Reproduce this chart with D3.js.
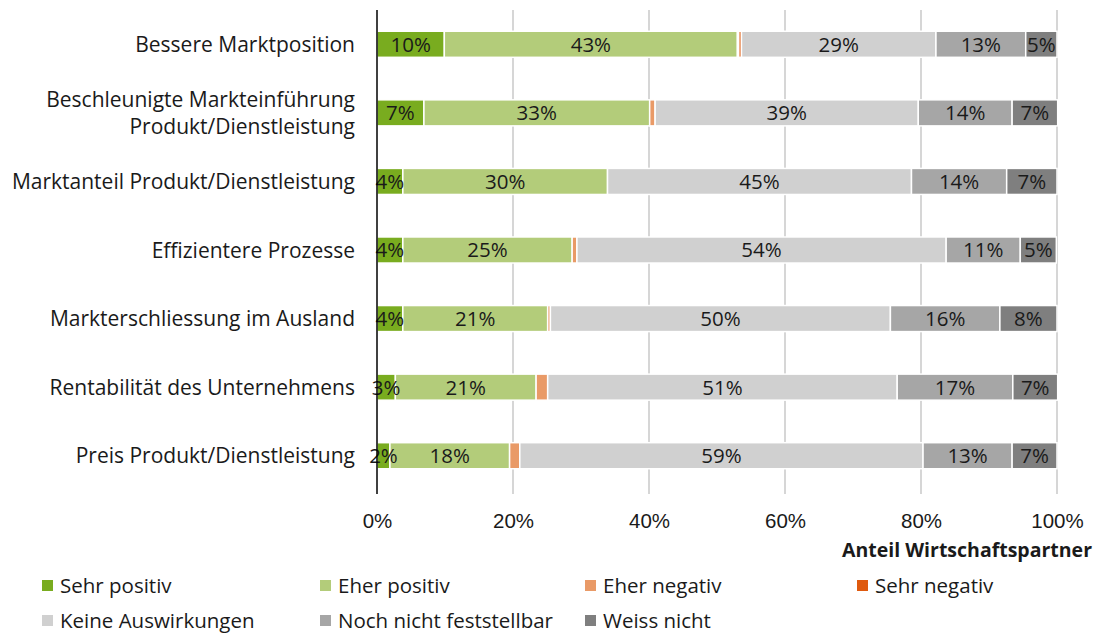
<!DOCTYPE html>
<html>
<head>
<meta charset="utf-8">
<script src="https://cdn.jsdelivr.net/npm/d3@7"></script>
<style>
  body { margin: 0; background: #fff; }
  svg { font-family: 'Open Sans', Lato, sans-serif; }
  .cat { font-size: 21px; fill: #1a1a1a; }
  .val { font-size: 20.5px; fill: #1a1a1a; }
  .tick text { font-size: 20.5px; fill: #1a1a1a; }
  .legend text { font-size: 20.5px; fill: #1a1a1a; }
</style>
</head>
<body>
<svg width="1100" height="634"></svg>
<script>
(function(d3) {
  'use strict';

  const categories = [
    'Bessere Marktposition',
    'Beschleunigte Markteinführung\nProdukt/Dienstleistung',
    'Marktanteil Produkt/Dienstleistung',
    'Effizientere Prozesse',
    'Markterschliessung im Ausland',
    'Rentabilität des Unternehmens',
    'Preis Produkt/Dienstleistung',
  ];

  const seriesNames = [
    'Sehr positiv', 'Eher positiv', 'Eher negativ', 'Sehr negativ',
    'Keine Auswirkungen', 'Noch nicht feststellbar', 'Weiss nicht',
  ];
  const seriesColors = [
    '#79ac1f', '#b3cc7a', '#e99a67', '#df5a0f',
    '#d0d0d0', '#a6a6a6', '#7f7f7f',
  ];

  // one array per series, values in percent, same order as categories
  const sehrPositiv = [9.9, 6.9, 3.8, 3.8, 3.8, 2.7, 1.9];
  const eherPositiv = [43.1, 33.2, 30.1, 24.9, 21.3, 20.7, 17.6];
  const eherNegativ = [0.2, 0.8, 0, 0.7, 0.4, 1.7, 1.5];
  const sehrNegativ = [0.4, 0, 0, 0, 0, 0, 0];
  const keineAuswirkungen = [28.6, 38.7, 44.7, 54.3, 50.0, 51.4, 59.3];
  const nochNicht = [13.2, 13.8, 14.0, 10.9, 16.1, 17.0, 13.1];
  const weissNicht = [4.6, 6.7, 7.4, 5.3, 8.4, 6.6, 6.6];

  const xTicks = [0, 20, 40, 60, 80, 100];
  const labelled = ['Sehr positiv', 'Eher positiv', 'Keine Auswirkungen',
    'Noch nicht feststellbar', 'Weiss nicht'];

  const allSeries = [sehrPositiv, eherPositiv, eherNegativ, sehrNegativ,
    keineAuswirkungen, nochNicht, weissNicht];

  const data = categories.map(function(c, i) {
    const row = {category: c};
    seriesNames.forEach(function(s, j) {
      row[s] = allSeries[j][i];
    });
    return row;
  });

  const stacked = d3.stack().keys(seriesNames)(data);

  const svg = d3.select('svg');
  const margin = {top: 10, left: 377, right: 43, bottom: 144};
  const width = +svg.attr('width');
  const height = +svg.attr('height');
  const innerWidth = width - margin.left - margin.right;
  const innerHeight = height - margin.top - margin.bottom;

  const g = svg.append('g')
      .attr('transform', `translate(${margin.left},${margin.top})`);

  const xScale = d3.scaleLinear().domain([0, 100]).range([0, innerWidth]);
  const yScale = d3.scaleBand().domain(categories)
      .range([0, innerHeight]).paddingInner(0.62).paddingOuter(0.31);

  // grid lines
  g.append('g').selectAll('line').data(xTicks.slice(1)).enter()
      .append('line')
      .attr('x1', function(d) { return xScale(d); })
      .attr('x2', function(d) { return xScale(d); })
      .attr('y1', 0).attr('y2', innerHeight + 4)
      .attr('stroke', '#c0c0c0').attr('stroke-width', 1.3);

  const xAxis = d3.axisBottom(xScale).tickValues(xTicks)
      .tickFormat(function(d) { return d + '%'; })
      .tickSize(0).tickPadding(23);
  const xAxisG = g.append('g')
      .attr('transform', `translate(0,${innerHeight})`).call(xAxis);
  xAxisG.select('.domain').remove();

  // bars
  const layers = g.append('g').selectAll('g').data(stacked).enter()
      .append('g')
      .attr('fill', function(d) { return seriesColors[d.index]; });

  layers.selectAll('rect').data(function(d) { return d; }).enter()
      .append('rect')
      .attr('x', function(d) { return xScale(d[0]); })
      .attr('y', function(d) { return yScale(d.data.category); })
      .attr('width', function(d) { return Math.max(0, xScale(d[1]) - xScale(d[0])); })
      .attr('height', yScale.bandwidth())
      .attr('stroke', '#fff').attr('stroke-width', 1.5);

  // value labels
  const labelLayers = g.append('g').selectAll('g')
      .data(stacked.filter(function(s) { return labelled.indexOf(s.key) >= 0; }))
      .enter().append('g');
  labelLayers.selectAll('text').data(function(d) { return d; }).enter()
      .append('text')
      .attr('class', 'val')
      .attr('text-anchor', 'middle')
      .attr('x', function(d) { return xScale((d[0] + d[1]) / 2); })
      .attr('y', function(d) { return yScale(d.data.category) + yScale.bandwidth() / 2; })
      .attr('dy', '0.36em')
      .text(function(d) { return Math.round(d[1] - d[0]) + '%'; });

  // vertical axis line
  g.append('line')
      .attr('x1', 0).attr('x2', 0)
      .attr('y1', 0).attr('y2', innerHeight + 4)
      .attr('stroke', '#000').attr('stroke-width', 1.5);

  // category labels
  const catLabels = g.append('g').selectAll('text').data(categories).enter()
      .append('text')
      .attr('class', 'cat')
      .attr('text-anchor', 'end')
      .attr('x', -22)
      .attr('y', function(d) { return yScale(d) + yScale.bandwidth() / 2; });
  catLabels.each(function(d) {
    const lines = d.split('\n');
    const t = d3.select(this);
    lines.forEach(function(line, i) {
      t.append('tspan')
          .attr('x', -22)
          .attr('dy', i === 0 ? (0.36 - (lines.length - 1) * 0.65) + 'em' : '1.3em')
          .text(line);
    });
  });

  // axis title
  svg.append('text')
      .attr('x', 1092).attr('y', 557)
      .attr('text-anchor', 'end')
      .attr('font-size', 19.5).attr('font-weight', 'bold')
      .attr('fill', '#1a1a1a')
      .text('Anteil Wirtschaftspartner');

  // legend
  const legendCols = [42, 320, 585, 857];
  const legend = svg.append('g').attr('class', 'legend')
      .selectAll('g').data(seriesNames).enter().append('g')
      .attr('transform', function(d, i) {
        return `translate(${legendCols[i % 4]},${i < 4 ? 586 : 621})`;
      });
  legend.append('rect')
      .attr('x', 0).attr('y', -6).attr('width', 11).attr('height', 11)
      .attr('fill', function(d, i) { return seriesColors[i]; });
  legend.append('text')
      .attr('x', 18).attr('dy', '0.35em')
      .text(function(d) { return d; });
}(d3));
</script>
</body>
</html>
